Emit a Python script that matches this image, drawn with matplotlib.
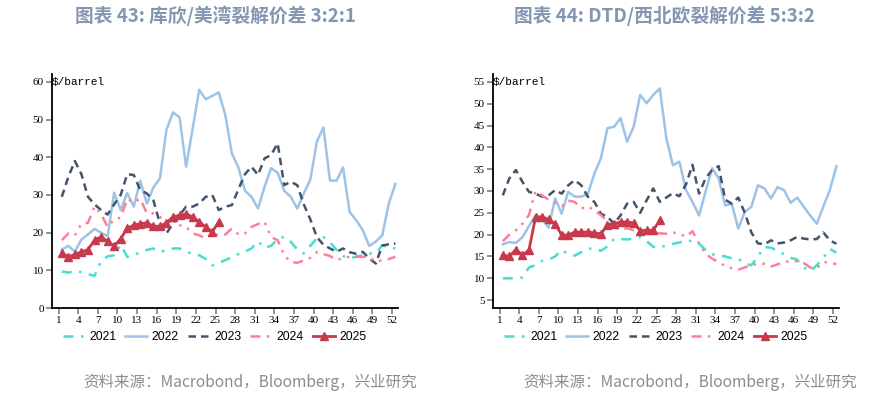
import numpy as np
import matplotlib
matplotlib.use("Agg")
import matplotlib.pyplot as plt

# ---- data: weekly crack spreads, $/barrel ----
years = ["2021", "2022", "2023", "2024", "2025"]
tick_weeks = list(range(1, 53, 3))

# Cushing / USGC 3:2:1
cush_2021 = [9.7, 9.4, 9.8, 9.5, 9.0, 8.5, 12.5, 13.7, 14.0, 16.8, 13.6, 14.0, 14.8,
             15.4, 15.8, 15.0, 15.2, 15.8, 15.8, 15.0, 14.3, 14.0, 13.0, 11.3, 12.0, 12.7,
             13.5, 14.3, 15.0, 15.8, 17.7, 16.0, 16.5, 18.3, 18.9, 17.6, 15.5, 14.5, 16.5,
             18.5, 18.8, 17.5, 15.4, 13.8, 13.2, 13.6, 14.0, 14.4, 14.6, 16.6, 16.2, 15.8]
cush_2022 = [15.5, 16.5, 15.0, 18.2, 19.5, 21.0, 20.0, 19.0, 30.6, 26.0, 30.5, 26.9, 33.8,
             27.7, 32.0, 34.4, 47.3, 51.9, 50.6, 37.5, 47.5, 57.9, 55.4, 56.3, 57.2, 51.2,
             41.0, 37.3, 31.1, 29.5, 26.4, 32.2, 37.1, 35.9, 31.1, 29.5, 26.4, 30.4, 34.1,
             44.2, 47.9, 33.8, 33.8, 37.3, 25.5, 23.3, 20.7, 16.5, 17.6, 19.3, 27.8, 32.9]
cush_2023 = [29.5, 34.8, 39.0, 35.5, 29.5, 27.5, 26.0, 24.8, 27.5, 30.0, 35.5, 35.3, 31.3,
             30.4, 28.6, 22.4, 19.8, 22.4, 24.6, 26.9, 26.9, 27.7, 29.5, 30.0, 26.0, 26.9,
             27.3, 31.5, 35.5, 37.5, 35.3, 39.7, 40.6, 43.7, 32.6, 33.5, 32.6, 27.5, 23.5,
             18.8, 16.8, 15.8, 14.9, 15.8, 14.8, 14.4, 14.9, 13.2, 11.8, 16.6, 16.9, 17.1]
cush_2024 = [18.0, 19.8, 19.3, 22.4, 22.6, 27.0, 25.0, 21.5, 23.5, 24.0, 29.0, 28.0, 29.0,
             25.1, 25.1, 24.2, 22.4, 23.3, 22.0, 21.5, 19.8, 19.3, 18.4, 19.8, 19.3, 19.5,
             21.1, 19.5, 19.8, 21.5, 22.3, 22.9, 18.8, 18.0, 14.0, 12.2, 12.0, 12.6, 13.3,
             14.8, 14.3, 13.8, 12.7, 13.3, 13.6, 13.6, 13.6, 13.5, 12.3, 12.7, 13.0, 13.6]
cush_2025 = [14.6, 13.6, 14.2, 14.9, 15.5, 18.0, 18.9, 17.7, 16.4, 18.4, 21.1, 22.0, 22.4,
             22.6, 21.7, 21.7, 22.6, 24.2, 24.6, 24.9, 24.2, 22.9, 21.5, 20.2, 22.9]

# DTD / NW Europe 5:3:2
dtd_2021 = [10.0, 10.0, 10.0, 10.2, 12.5, 13.0, 14.0, 14.3, 15.0, 16.5, 15.5, 15.2, 16.0,
            16.8, 16.8, 16.3, 17.3, 19.0, 19.0, 18.9, 19.1, 19.5, 18.5, 17.2, 17.0, 17.6,
            17.9, 18.2, 18.7, 18.5, 17.9, 16.5, 15.5, 15.3, 15.0, 14.6, 14.5, 13.4, 13.0,
            15.0, 17.2, 17.0, 16.3, 15.5, 14.7, 14.3, 12.5, 11.6, 13.0, 14.7, 16.7, 15.9]
dtd_2022 = [17.8, 18.3, 18.1, 19.4, 22.0, 24.4, 23.5, 21.6, 28.3, 24.8, 29.8, 28.7, 28.7,
            29.3, 34.0, 37.5, 44.4, 44.7, 46.7, 41.3, 44.7, 52.0, 50.1, 52.0, 53.5, 42.1,
            35.9, 36.7, 30.2, 27.5, 24.4, 29.8, 35.2, 32.9, 26.7, 27.1, 21.4, 25.2, 26.4,
            31.3, 30.6, 28.3, 30.9, 30.2, 27.3, 28.5, 26.4, 24.4, 22.5, 26.4, 30.2, 35.7]
dtd_2023 = [29.0, 32.9, 34.8, 32.1, 29.8, 29.4, 28.7, 29.0, 30.2, 29.4, 31.3, 32.5, 31.3,
            28.7, 27.5, 24.8, 24.1, 22.5, 24.4, 27.1, 27.5, 25.0, 27.9, 30.6, 27.5, 28.5,
            29.5, 28.8, 31.5, 36.0, 29.4, 32.9, 34.8, 35.7, 28.0, 27.1, 28.5, 25.0, 20.5,
            18.0, 17.8, 18.7, 18.0, 18.2, 18.7, 19.5, 19.1, 18.9, 19.0, 20.5, 18.7, 17.9]
dtd_2024 = [18.5, 20.0, 21.0, 22.5, 24.5, 30.0, 29.0, 28.0, 27.3, 26.5, 27.8, 27.5, 26.0,
            26.5, 25.5, 24.5, 23.0, 22.0, 21.0, 21.5, 21.0, 21.0, 20.5, 20.5, 20.3, 20.2,
            20.5, 20.2, 19.5, 20.8, 18.0, 15.6, 14.5, 13.7, 12.8, 12.3, 12.0, 12.5, 13.0,
            13.3, 13.3, 12.7, 13.2, 13.7, 14.0, 13.9, 13.5, 12.5, 12.3, 13.7, 13.7, 13.2]
dtd_2025 = [15.3, 15.0, 16.6, 15.3, 16.5, 24.0, 24.1, 23.5, 22.5, 19.9, 19.9, 20.6, 20.6,
            20.6, 20.4, 20.2, 22.2, 22.5, 22.9, 22.9, 22.7, 20.9, 21.0, 21.0, 23.3]

# ---- styles ----
colors = ["#48DDD0", "#9DC3E6", "#44546A", "#FF7F97", "#C8394B"]
dashes = [(0, (4, 3, 1, 3)), "-", (0, (3, 2)), (0, (4, 2.5, 1, 2.5, 1, 2.5)), "-"]

plt.rcParams["font.family"] = ["Liberation Serif", "DejaVu Serif"]

fig = plt.figure(figsize=(8.81, 3.96), dpi=100)
ax_l = fig.add_axes([52 / 881, 1 - 308 / 396, 346 / 881, 234 / 396])
ax_r = fig.add_axes([493 / 881, 1 - 308 / 396, 346 / 881, 234 / 396])


def draw(ax, series, ylim, yticks):
    for i, vals in enumerate(series):
        x = np.arange(1, len(vals) + 1)
        if years[i] == "2025":
            ax.plot(x, vals, color=colors[i], lw=2.0, marker="^", ms=6,
                    label=years[i], zorder=5)
        else:
            ax.plot(x, vals, color=colors[i], lw=1.8, linestyle=dashes[i],
                    label=years[i])
    ax.set_xlim(-0.5, 52.4)
    ax.set_ylim(*ylim)
    # data points sit half a step right of the week labels
    ax.set_xticks([w - 0.5 for w in tick_weeks])
    ax.set_xticklabels([str(w) for w in tick_weeks])
    ax.set_yticks(yticks)
    ax.tick_params(labelsize=8, length=4, width=1.2, color="#7f7f7f", pad=2)
    for s in ["top", "right"]:
        ax.spines[s].set_visible(False)
    for s in ["left", "bottom"]:
        ax.spines[s].set_linewidth(1.3)
    ax.text(0.0, 0.966, r"\$/barrel", transform=ax.transAxes, ha="left",
            va="center", fontsize=8, family="Liberation Mono")
    ax.legend(loc="center", bbox_to_anchor=(0.47, -0.125), ncol=5,
              frameon=False, handlelength=1.8, columnspacing=0.75,
              handletextpad=0.35, prop={"family": "Liberation Sans", "size": 8.8})


draw(ax_l, [cush_2021, cush_2022, cush_2023, cush_2024, cush_2025],
     (0, 62.1), range(0, 61, 10))
draw(ax_r, [dtd_2021, dtd_2022, dtd_2023, dtd_2024, dtd_2025],
     (3.2, 56.8), range(5, 56, 5))

title_kw = dict(ha="center", va="center", fontsize=13.5, fontweight="bold",
                color="#8497B0", family=["Noto Sans CJK SC", "DejaVu Sans"])
fig.text(215 / 881, 1 - 16 / 396, "图表 43: 库欣/美湾裂解价差 3:2:1", **title_kw)
fig.text(664 / 881, 1 - 16 / 396, "图表 44: DTD/西北欧裂解价差 5:3:2", **title_kw)

src_kw = dict(ha="right", va="center", fontsize=11.2, color="#8C8C8C",
              family=["Noto Sans CJK SC", "DejaVu Sans"])
fig.text(417 / 881, 1 - 382 / 396, "资料来源：Macrobond，Bloomberg，兴业研究", **src_kw)
fig.text(857 / 881, 1 - 382 / 396, "资料来源：Macrobond，Bloomberg，兴业研究", **src_kw)

fig.savefig("out.png", dpi=100)
